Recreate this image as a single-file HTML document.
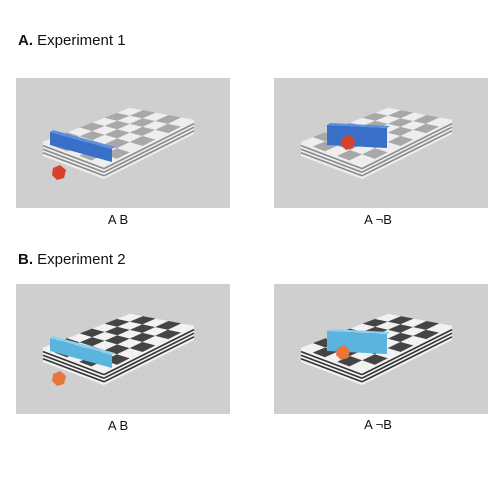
<!DOCTYPE html>
<html><head><meta charset="utf-8"><style>
body{margin:0;background:#fff;width:503px;height:503px;overflow:hidden}
svg{display:block}
text{font-family:"Liberation Sans",sans-serif;fill:#111}
</style></head><body>
<svg id="fig" width="503" height="503" viewBox="0 0 503 503">
<text x="18" y="45" font-size="15"><tspan font-weight="bold">A.</tspan> Experiment 1</text>
<text x="18" y="264" font-size="15"><tspan font-weight="bold">B.</tspan> Experiment 2</text>
<g id="panels"></g>
<text x="118" y="224" font-size="13" text-anchor="middle">A B</text>
<text x="378" y="224" font-size="13" text-anchor="middle">A ¬B</text>
<text x="118" y="430" font-size="13" text-anchor="middle">A B</text>
<text x="378" y="429" font-size="13" text-anchor="middle">A ¬B</text>
</svg>
<script>
const NS="http://www.w3.org/2000/svg";
const panelsG=document.getElementById('panels');
function mk(tag,attrs,parent){const e=document.createElementNS(NS,tag);for(const k in attrs)e.setAttribute(k,attrs[k]);parent.appendChild(e);return e;}
function lerp(a,b,t){return [a[0]+(b[0]-a[0])*t,a[1]+(b[1]-a[1])*t];}
function pt(L,B,R,F,u,v){const p=lerp(L,B,u),q=lerp(F,R,u);return lerp(p,q,v);}
function pts(a){return a.map(p=>p[0].toFixed(1)+','+p[1].toFixed(1)).join(' ');}
const panels=[
 {x:16,y:78,dx:0,dy:0,dark:false,bar:'#3a6fc8',barTop:'#5a8ee0',cube:'#d8412a',notB:false,c:[59,172]},
 {x:274,y:78,dx:258,dy:0,dark:false,bar:'#3a6fc8',barTop:'#5a8ee0',cube:'#d8412a',notB:true,c:[90,142]},
 {x:16,y:284,dx:0,dy:206,dark:true,bar:'#5ab4de',barTop:'#8fd0ee',cube:'#e8763a',notB:false,c:[59,172]},
 {x:274,y:284,dx:258,dy:206,dark:true,bar:'#5ab4de',barTop:'#8fd0ee',cube:'#e8763a',notB:true,c:[85,146]}
];
panels.forEach((P,i)=>{
 const g=mk('g',{},panelsG);
 
 
 mk('rect',{x:P.x,y:P.y,width:214,height:130,fill:'#cfcfcf'},g);
 const o=(p)=>[p[0]+P.dx,p[1]+P.dy];
 const L=o([43,142]),B=o([130,108]),R=o([194,120]),F=o([104,165]);
 const T=14;
 const dk=P.dark?'#444':'#a8a8a8', lt=P.dark?'#f2f2f2':'#eeeeee';
 const sdk=P.dark?'#333':'#8a8a8a';
 const down=p=>[p[0],p[1]+T];
 mk('polygon',{points:pts([L,F,down(F),down(L)]),fill:lt},g);
 mk('polygon',{points:pts([F,R,down(R),down(F)]),fill:lt},g);
 for(let s=1;s<4;s++){
  const d=p=>[p[0],p[1]+s*3.6];
  mk('line',{x1:d(L)[0],y1:d(L)[1],x2:d(F)[0],y2:d(F)[1],stroke:sdk,'stroke-width':1.6},g);
  mk('line',{x1:d(F)[0],y1:d(F)[1],x2:d(R)[0],y2:d(R)[1],stroke:sdk,'stroke-width':1.6},g);
 }
 const NU=7,NV=5;
 for(let a=0;a<NU;a++)for(let b=0;b<NV;b++){
  const q=[pt(L,B,R,F,a/NU,b/NV),pt(L,B,R,F,(a+1)/NU,b/NV),pt(L,B,R,F,(a+1)/NU,(b+1)/NV),pt(L,B,R,F,a/NU,(b+1)/NV)];
  mk('polygon',{points:pts(q),fill:(a+b)%2?dk:lt,stroke:(a+b)%2?dk:lt,'stroke-width':0.4},g);
 }
 let b0,b1,H;
 if(!P.notB){b0=o([50,132]);b1=o([112,149]);H=13;}else{b0=o([69,125]);b1=o([129,128]);H=20;}
 const c=o(P.c);
 const drawCube=()=>{
  const cube=mk('polygon',{points:pts([[c[0]-6,c[1]-4],[c[0]+1,c[1]-7],[c[0]+7,c[1]-2],[c[0]+5,c[1]+6],[c[0]-2,c[1]+8],[c[0]-7,c[1]+3]]),fill:P.cube},g);
  
  
 };
 const bar=mk('polygon',{points:pts([b0,b1,[b1[0],b1[1]+H],[b0[0],b0[1]+H]]),fill:P.bar},g);
 
 
 mk('polygon',{points:pts([b0,b1,[b1[0]+3,b1[1]-2],[b0[0]+3,b0[1]-2]]),fill:P.barTop},g);
 drawCube();
});
</script>
</body></html>
